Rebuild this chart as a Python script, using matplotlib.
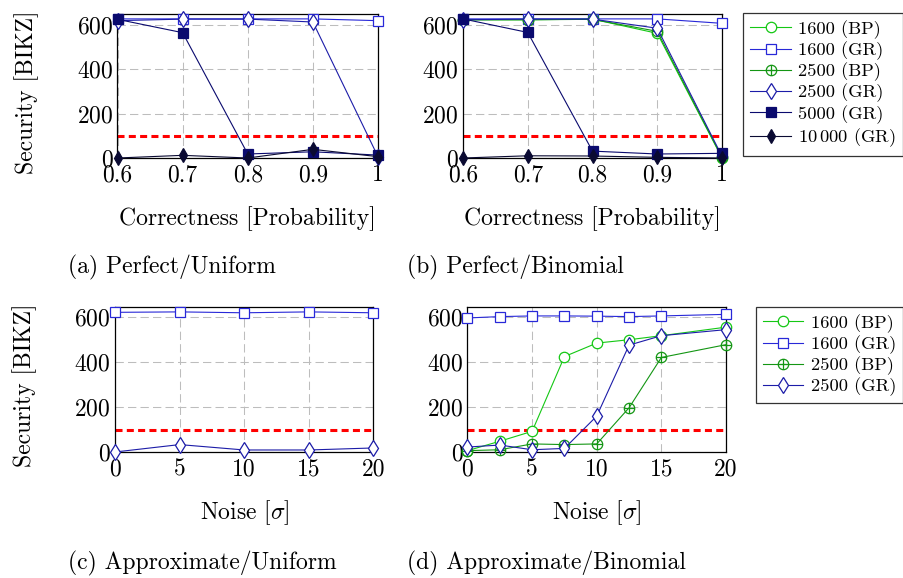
import matplotlib
matplotlib.use("Agg")
import matplotlib.pyplot as plt
from matplotlib.path import Path

plt.rcParams["font.family"] = "cmr10"
plt.rcParams["mathtext.fontset"] = "cm"
plt.rcParams["axes.unicode_minus"] = False
plt.rcParams["axes.formatter.use_mathtext"] = True

# ---- data ----
correctness = [0.6, 0.7, 0.8, 0.9, 1.0]
correctness_labels = ["0.6", "0.7", "0.8", "0.9", "1"]
noise_uniform = [0, 5, 10, 15, 20]
noise_binomial = [0, 2.5, 5, 7.5, 10, 12.5, 15, 20]
noise_ticks = [0, 5, 10, 15, 20]
security_ticks = [0, 200, 400, 600]
threshold = 100

# (a) Perfect/Uniform
pu_1600_gr = [626, 626, 626, 626, 618]
pu_2500_gr = [618, 625, 625, 612, 6]
pu_5000_gr = [624, 564, 18, 28, 13]
pu_10000_gr = [0, 12, 0, 39, 6]

# (b) Perfect/Binomial
pb_1600_bp = [622, 622, 625, 561, 0]
pb_1600_gr = [626, 626, 626, 626, 606]
pb_2500_bp = [622, 622, 624, 570, 3]
pb_2500_gr = [622, 625, 625, 584, 8]
pb_5000_gr = [626, 565, 31, 18, 21]
pb_10000_gr = [0, 10, 9, 3, 0]

# (c) Approximate/Uniform
au_1600_gr = [622, 624, 620, 624, 620]
au_2500_gr = [0, 33, 9, 9, 18]

# (d) Approximate/Binomial
ab_1600_bp = [6, 48, 92, 425, 485, 500, 518, 556]
ab_1600_gr = [597, 603, 606, 606, 605, 603, 606, 613]
ab_2500_bp = [6, 10, 36, 33, 36, 197, 421, 478]
ab_2500_gr = [22, 31, 10, 16, 160, 476, 518, 545]

# ---- styles ----
circ = Path.unit_circle()
cross = Path([[-1, 0], [1, 0], [0, -1], [0, 1]],
             [Path.MOVETO, Path.LINETO, Path.MOVETO, Path.LINETO])
oplus = Path.make_compound_path(circ, cross)

styles = {
    "1600 (BP)": dict(color="#14c814", marker="o", mfc="white", ms=7.5),
    "1600 (GR)": dict(color="#2828d8", marker="s", mfc="white", ms=7.8),
    "2500 (BP)": dict(color="#149614", marker=oplus, mfc="none", ms=7.5),
    "2500 (GR)": dict(color="#1c1ca8", marker="d", mfc="white", ms=8.2),
    "5000 (GR)": dict(color="#0a0a6e", marker="s", mfc="#0a0a6e", ms=7.8),
    r"$10\,000$ (GR)": dict(color="#0a0a32", marker="d", mfc="#0a0a32", ms=7.5),
}

W, H = 904, 578
fig = plt.figure(figsize=(W / 100, H / 100), dpi=100)


def make_axes(left, right, top, bottom):
    return fig.add_axes([left / W, 1 - bottom / H, (right - left) / W, (bottom - top) / H])


def plot_series(ax, x, y, name):
    st = styles[name]
    ax.plot(x, y, color=st["color"], lw=0.8, marker=st["marker"], ms=st["ms"],
            mfc=st["mfc"], mec=st["color"], mew=0.9, clip_on=False, label=name, zorder=3)


def style_axes(ax, xticks, xlabels, xlim, xlabel, show_ylabel):
    ax.axhline(threshold, color="red", lw=2.2, dashes=(2.3, 1.4), zorder=2)
    ax.set_xlim(*xlim)
    ax.set_ylim(0, 648)
    ax.set_xticks(xticks)
    ax.set_xticklabels(xlabels)
    ax.set_yticks(security_ticks)
    ax.tick_params(length=0, labelsize=17)
    ax.tick_params(axis="x", pad=4.5)
    ax.tick_params(axis="y", pad=3)
    ax.grid(True, color="#bdbdbd", lw=0.75, linestyle=(0, (8, 4)))
    ax.set_axisbelow(True)
    for s in ax.spines.values():
        s.set_linewidth(0.9)
    ax.set_xlabel(xlabel, fontsize=17)
    ax.xaxis.label.set_va("center")
    ax.xaxis.set_label_coords(0.5, -0.42)
    if show_ylabel:
        ax.set_ylabel("Security [BIKZ]", fontsize=17)
        ax.yaxis.label.set_va("center")
        ax.yaxis.set_label_coords(-0.35, 0.46)


ax_a = make_axes(117.5, 378, 14, 158)
ax_b = make_axes(463, 722, 14, 158)
ax_c = make_axes(115, 373.5, 306.5, 452)
ax_d = make_axes(467.5, 726, 306.5, 452)

plot_series(ax_a, correctness, pu_1600_gr, "1600 (GR)")
plot_series(ax_a, correctness, pu_2500_gr, "2500 (GR)")
plot_series(ax_a, correctness, pu_5000_gr, "5000 (GR)")
plot_series(ax_a, correctness, pu_10000_gr, r"$10\,000$ (GR)")

plot_series(ax_b, correctness, pb_1600_bp, "1600 (BP)")
plot_series(ax_b, correctness, pb_1600_gr, "1600 (GR)")
plot_series(ax_b, correctness, pb_2500_bp, "2500 (BP)")
plot_series(ax_b, correctness, pb_2500_gr, "2500 (GR)")
plot_series(ax_b, correctness, pb_5000_gr, "5000 (GR)")
plot_series(ax_b, correctness, pb_10000_gr, r"$10\,000$ (GR)")

plot_series(ax_c, noise_uniform, au_1600_gr, "1600 (GR)")
plot_series(ax_c, noise_uniform, au_2500_gr, "2500 (GR)")

plot_series(ax_d, noise_binomial, ab_1600_bp, "1600 (BP)")
plot_series(ax_d, noise_binomial, ab_1600_gr, "1600 (GR)")
plot_series(ax_d, noise_binomial, ab_2500_bp, "2500 (BP)")
plot_series(ax_d, noise_binomial, ab_2500_gr, "2500 (GR)")

style_axes(ax_a, correctness, correctness_labels, (0.6, 1.0), "Correctness [Probability]", True)
style_axes(ax_b, correctness, correctness_labels, (0.6, 1.0), "Correctness [Probability]", False)
noise_labels = [str(t) for t in noise_ticks]
style_axes(ax_c, noise_ticks, noise_labels, (0, 20), r"Noise [$\sigma$]", True)
style_axes(ax_d, noise_ticks, noise_labels, (0, 20), r"Noise [$\sigma$]", False)

leg_kw = dict(fontsize=13.3, frameon=True, fancybox=False, framealpha=1,
              edgecolor="#333333", handlelength=2.2, handletextpad=0.4,
              labelspacing=0.14, borderpad=0.38, borderaxespad=0, loc="upper right")
h, l = ax_b.get_legend_handles_labels()
leg1 = fig.legend(h, l, bbox_to_anchor=(903 / W, 1 - 13 / H), **leg_kw)
h, l = ax_d.get_legend_handles_labels()
leg2 = fig.legend(h, l, bbox_to_anchor=(903 / W, 1 - 307 / H), **leg_kw)
for leg in (leg1, leg2):
    leg.get_frame().set_linewidth(0.9)

fig.text(68 / W, 1 - 267 / H, "(a) Perfect/Uniform", fontsize=17, va="center")
fig.text(407 / W, 1 - 267 / H, "(b) Perfect/Binomial", fontsize=17, va="center")
fig.text(68 / W, 1 - 563 / H, "(c) Approximate/Uniform", fontsize=17, va="center")
fig.text(407 / W, 1 - 563 / H, "(d) Approximate/Binomial", fontsize=17, va="center")

fig.savefig("out.png", dpi=100)
